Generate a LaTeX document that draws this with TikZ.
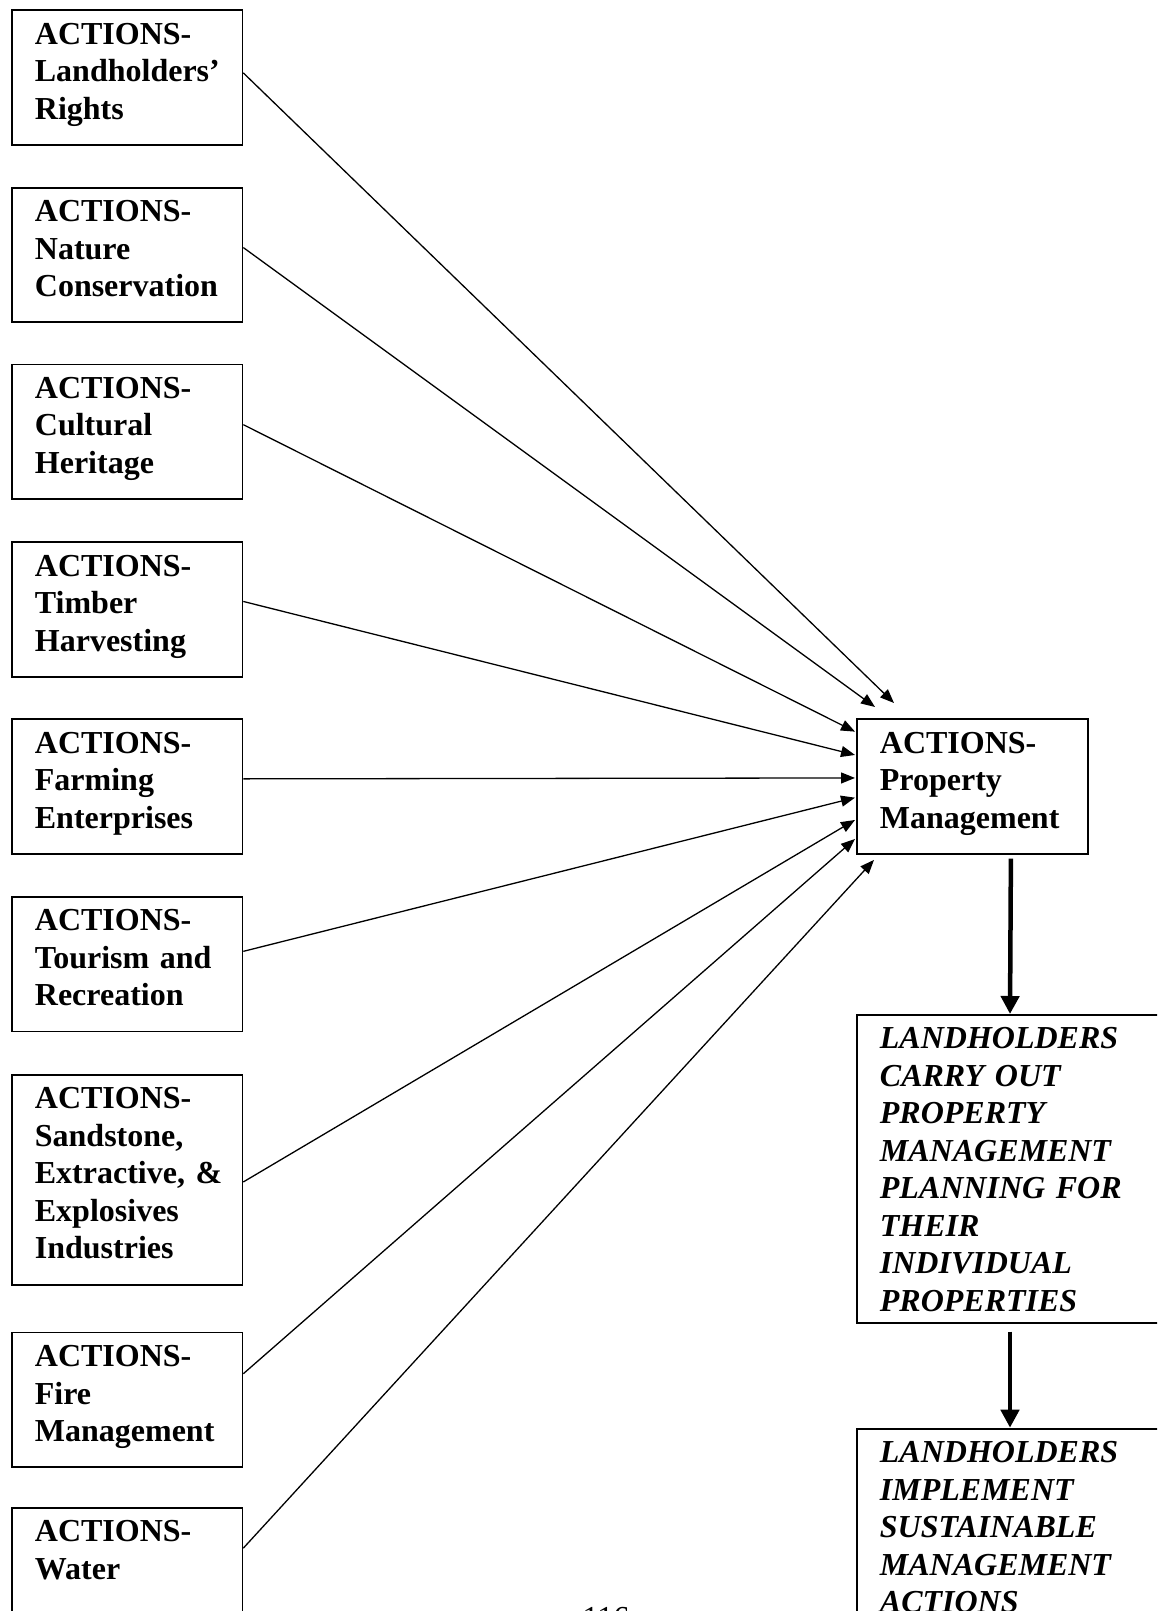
\documentclass[tikz,border=0pt]{standalone}
\usepackage{fontspec}
\setmainfont{Liberation Serif}
\usetikzlibrary{arrows.meta}

\begin{document}
\begin{tikzpicture}[x=1pt,y=-1pt,
	box/.style={draw, line width=1.8pt, anchor=north west, align=left, inner xsep=0pt, inner ysep=12pt, text height=22pt, font=\fontsize{32}{37.5}\selectfont\bfseries, execute at begin node={\leftskip=23pt\relax}},
	actbox/.style={box, text width=230.5pt, text depth=88.5pt},
	planbox/.style={box, text width=320pt, font=\fontsize{32}{37.5}\selectfont\bfseries\itshape},
	link/.style={line width=1.3pt, -{Triangle[length=14pt,width=11pt]}},
	bigarrow/.style={line width=4.5pt, -{Triangle[length=18pt,width=18pt]}}]
		\path[use as bounding box, clip] (0,0) rectangle (1157,1611);
		\node[actbox] (rights) at (11,9.5) {ACTIONS-\\Landholders’\\Rights};
		\node[actbox] (nature) at (11,186.7) {ACTIONS-\\Nature\\Conservation};
		\node[actbox] (heritage) at (11,363.5) {ACTIONS-\\Cultural\\Heritage};
		\node[actbox] (timber) at (11,541.3) {ACTIONS-\\Timber\\Harvesting};
		\node[actbox] (farming) at (11,718.2) {ACTIONS-\\Farming\\Enterprises};
		\node[actbox] (tourism) at (11,896) {ACTIONS-\\Tourism and\\Recreation};
		\node[actbox, text depth=164.7pt] (sandstone) at (11,1073.7) {ACTIONS-\\Sandstone,\\Extractive, \&\\Explosives\\Industries};
		\node[actbox] (fire) at (11,1331.6) {ACTIONS-\\Fire\\Management};
		\node[actbox] (water) at (11,1507) {ACTIONS-\\Water};
		\node[actbox, text width=231pt] (prop) at (856,718.3) {ACTIONS-\\Property\\Management};
		\node[planbox, text depth=261.7pt] (plan) at (856,1014) {LANDHOLDERS\\CARRY OUT\\PROPERTY\\MANAGEMENT\\PLANNING FOR\\THEIR\\INDIVIDUAL\\PROPERTIES};
		\node[planbox, text depth=175pt] (impl) at (856,1427.7) {LANDHOLDERS\\IMPLEMENT\\SUSTAINABLE\\MANAGEMENT\\ACTIONS};
		\node[anchor=north, inner sep=0pt, font=\fontsize{32}{37}\selectfont] (pnum) at (606,1607) {116};
		\draw[link] ([yshift=4.75pt]rights.east) -- ([xshift=38pt,yshift=15.3pt]prop.north west);
		\draw[link] ([yshift=7.3pt]nature.east) -- ([xshift=19pt,yshift=11.3pt]prop.north west);
		\draw[link] ([yshift=7pt]heritage.east) -- ([xshift=-1pt,yshift=54.8pt]prop.west);
		\draw[link] ([yshift=8pt]timber.east) -- ([xshift=-1pt,yshift=31.5pt]prop.west);
		\draw[link] ([yshift=7.5pt]farming.east) -- ([xshift=-1pt,yshift=8.5pt]prop.west);
		\draw[link] ([yshift=12.8pt]tourism.east) -- ([xshift=-1pt,yshift=-11.2pt]prop.west);
		\draw[link] ([yshift=-2pt]sandstone.east) -- ([xshift=-1pt,yshift=-33.5pt]prop.west);
		\draw[link] ([yshift=26pt]fire.east) -- ([xshift=-1pt,yshift=-52.5pt]prop.west);
		\draw[link] ([yshift=27pt]water.east) -- ([xshift=18pt,yshift=-5.3pt]prop.south west);
		\draw[bigarrow] ([xshift=38.5pt,yshift=-4pt]prop.south) -- ([xshift=154pt]plan.north west);
		\draw[bigarrow] ([xshift=154pt,yshift=-8pt]plan.south west) -- ([xshift=154pt]impl.north west);
\end{tikzpicture}
\end{document}
